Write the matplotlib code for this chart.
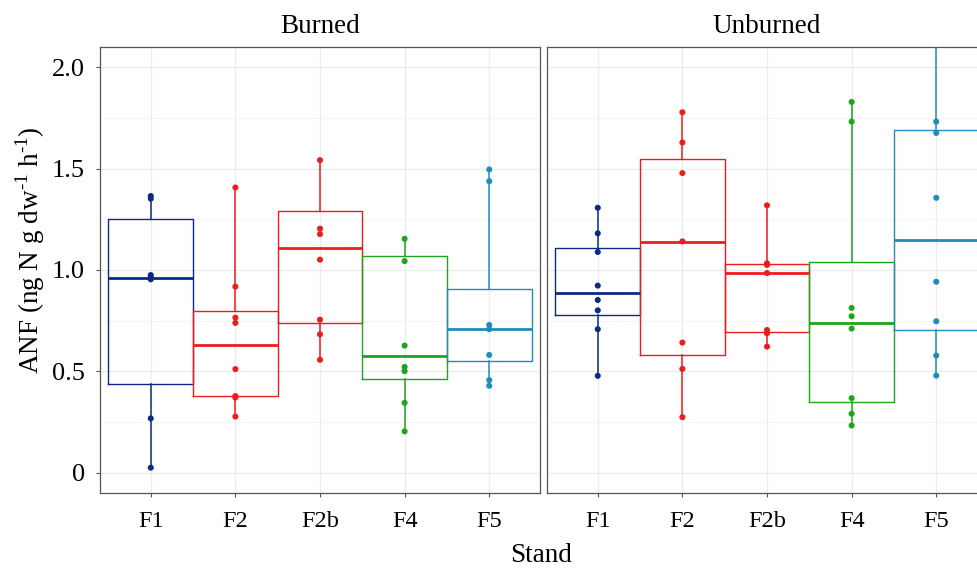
import numpy as np
import matplotlib
matplotlib.use("Agg")
import matplotlib.pyplot as plt
from matplotlib.ticker import MultipleLocator

plt.rcParams["font.family"] = ["Liberation Serif", "DejaVu Serif"]
plt.rcParams["mathtext.fontset"] = "custom"
plt.rcParams["mathtext.rm"] = "Liberation Serif"

stands = ["F1", "F2", "F2b", "F4", "F5"]
colors = ["#0b2a85", "#f01c1c", "#f01c1c", "#1ea51e", "#1f8dba"]
panels = ["Burned", "Unburned"]

# box statistics per panel: lower whisker, q1, median, q3, upper whisker
burned_whislo = [0.02, 0.28, 0.56, 0.20, 0.43]
burned_q1     = [0.44, 0.38, 0.74, 0.46, 0.55]
burned_med    = [0.96, 0.63, 1.11, 0.575, 0.71]
burned_q3     = [1.25, 0.80, 1.29, 1.07, 0.905]
burned_whishi = [1.36, 1.41, 1.54, 1.15, 1.50]

unburned_whislo = [0.48, 0.27, 0.62, 0.23, 0.48]
unburned_q1     = [0.78, 0.58, 0.695, 0.35, 0.705]
unburned_med    = [0.885, 1.14, 0.985, 0.74, 1.15]
unburned_q3     = [1.11, 1.55, 1.03, 1.04, 1.69]
unburned_whishi = [1.31, 1.78, 1.32, 1.83, 2.30]

# individual observations
burned_pts = [
    [1.365, 1.352, 0.975, 0.964, 0.954, 0.268, 0.025],
    [1.407, 0.918, 0.765, 0.739, 0.511, 0.378, 0.371, 0.277],
    [1.542, 1.204, 1.177, 1.051, 0.755, 0.683, 0.557],
    [1.154, 1.044, 0.627, 0.522, 0.501, 0.345, 0.204],
    [1.496, 1.438, 0.729, 0.708, 0.581, 0.457, 0.429],
]
unburned_pts = [
    [1.307, 1.181, 1.089, 0.923, 0.852, 0.801, 0.708, 0.478],
    [1.778, 1.629, 1.478, 1.141, 0.642, 0.512, 0.274],
    [1.319, 1.033, 1.025, 0.985, 0.704, 0.688, 0.622],
    [1.829, 1.732, 0.813, 0.772, 0.711, 0.368, 0.291, 0.233],
    [1.732, 1.676, 1.356, 0.942, 0.747, 0.578, 0.479],
]

panel_data = [
    (burned_whislo, burned_q1, burned_med, burned_q3, burned_whishi, burned_pts),
    (unburned_whislo, unburned_q1, unburned_med, unburned_q3, unburned_whishi, unburned_pts),
]

W, H = 977, 570
fig = plt.figure(figsize=(W / 100, H / 100), dpi=100)
ax_l = fig.add_axes([100 / W, 77 / H, 440 / W, 446 / H])
ax_r = fig.add_axes([547 / W, 77 / H, 440 / W, 446 / H], sharey=ax_l)

pos = np.arange(1, len(stands) + 1)
for ax, title, (lo, q1, med, q3, hi, pts) in zip([ax_l, ax_r], panels, panel_data):
    for i, st in enumerate(stands):
        stats = [dict(whislo=lo[i], q1=q1[i], med=med[i], q3=q3[i], whishi=hi[i], label=st)]
        c = colors[i]
        ax.bxp(stats, positions=[pos[i]], widths=1.0, showcaps=False, showfliers=False,
               boxprops=dict(color=c, lw=1.0),
               whiskerprops=dict(color=c, lw=1.1),
               medianprops=dict(color=c, lw=2.0), zorder=3)
        ax.scatter(np.full(len(pts[i]), pos[i]), pts[i], s=19, color=c, zorder=4,
                   edgecolors="none")
    ax.set_xlim(0.4, 5.6)
    ax.set_ylim(-0.1, 2.1)
    ax.set_xticks(pos)
    ax.set_xticklabels(stands, fontsize=17.5)
    ax.yaxis.set_major_locator(MultipleLocator(0.5))
    ax.yaxis.set_minor_locator(MultipleLocator(0.25))
    ax.grid(True, which="major", color="#ebebeb", lw=0.9, zorder=0)
    ax.grid(True, which="minor", axis="y", color="#f2f2f2", lw=0.6, zorder=0)
    ax.set_axisbelow(True)
    for sp in ax.spines.values():
        sp.set_color("#555555")
        sp.set_linewidth(0.9)
    ax.tick_params(axis="both", which="major", length=3, width=0.8, color="#555555", pad=10)
    ax.tick_params(axis="y", which="minor", length=0)
    ax.set_title(title, fontsize=19.5, pad=10)

ax_l.set_yticks([0, 0.5, 1.0, 1.5, 2.0])
ax_l.set_yticklabels(["0", "0.5", "1.0", "1.5", "2.0"], fontsize=19)
ax_l.tick_params(axis="y", pad=8)
ax_r.tick_params(axis="y", which="both", left=False, labelleft=False)

ax_l.set_ylabel(r"ANF (ng N g dw$^{\mathregular{\text{-}1}}$ h$^{\mathregular{\text{-}1}}$)",
                fontsize=19.5, va="center")
ax_l.yaxis.set_label_coords(-70 / 440, 1 - (250 - 47) / 446)
fig.text(541 / W, 1 - 556 / H, "Stand", ha="center", va="center", fontsize=19.5)

fig.savefig("out.png", dpi=100)
